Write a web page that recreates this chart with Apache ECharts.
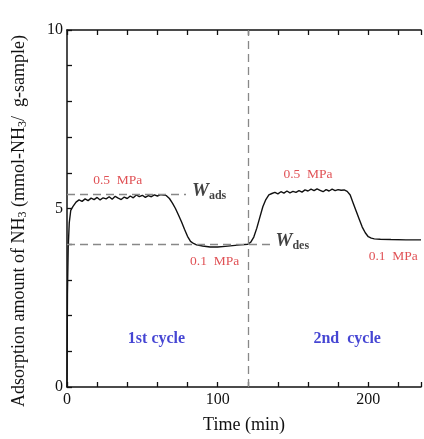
<!DOCTYPE html>
<html>
<head>
<meta charset="utf-8">
<script src="https://cdn.jsdelivr.net/npm/echarts@6/dist/echarts.min.js"></script>
<style>
html,body{margin:0;padding:0;background:#fff;}
#main{width:424px;height:439px;}
</style>
</head>
<body>
<div id="main"></div>
<script>
// time (min) and adsorbed amount
var times = [0,0.3,0.8,1.5,2.5,4,6,8,10,12,14,16,18,20,22,24,26,28,30,32,34,36,38,40,42,44,46,48,50,52,54,56,58,60,62,64,66,
	68,70,72,74,76,78,80,82,84,86,90,95,100,105,110,115,120,122,124,126,128,130,132,134,136,
	138,140,142,144,146,148,150,152,154,156,158,160,162,164,166,168,170,172,174,176,178,180,182,184,186,
	188,190,192,194,196,198,200,202,204,208,215,225,235];
var amount = [0,2.6,3.9,4.6,4.95,5.06,5.18,5.24,5.20,5.27,5.22,5.29,5.25,5.31,5.24,5.30,5.27,5.33,5.26,5.34,5.29,5.25,5.32,5.28,5.35,5.30,5.38,5.33,5.37,5.31,5.36,5.33,5.38,5.35,5.39,5.38,5.36,
	5.28,5.15,5.00,4.82,4.63,4.42,4.22,4.08,4.02,3.98,3.95,3.92,3.92,3.94,3.96,3.98,4.00,4.06,4.20,4.45,4.75,5.05,5.25,5.38,5.42,
	5.45,5.41,5.47,5.43,5.49,5.44,5.48,5.45,5.50,5.46,5.52,5.49,5.54,5.50,5.55,5.51,5.47,5.53,5.49,5.54,5.50,5.53,5.51,5.52,5.48,
	5.38,5.15,4.92,4.70,4.48,4.32,4.21,4.17,4.15,4.14,4.13,4.12,4.12];

var cycleEnd = 120;
var wAds = 5.4, wAdsEnd = 79;
var wDes = 4.0, wDesEnd = 135;

// text notes: [time, amount, text, kind]
var notes = [
	[33.7, 5.79, '0.5  MPa', 'p'],
	[160, 5.95, '0.5  MPa', 'p'],
	[98, 3.53, '0.1  MPa', 'p'],
	[216.6, 3.66, '0.1  MPa', 'p'],
	[59.4, 1.35, '1st cycle', 'c'],
	[186, 1.35, '2nd  cycle', 'c']
];
var wNotes = [
	[83, 5.5, 'ads'],
	[138.4, 4.08, 'des']
];

var serif = '"Liberation Serif", "DejaVu Serif", serif';

var curve = [];
for (var i = 0; i < times.length; i++) curve.push([times[i], amount[i]]);

var noteData = notes.map(function(n){
	return {
		value: [n[0], n[1]],
		label: {
			show: true, position: 'inside',
			formatter: n[2],
			fontFamily: serif,
			fontSize: n[3] === 'p' ? 13.5 : 16,
			fontWeight: n[3] === 'p' ? 'normal' : 'bold',
			color: n[3] === 'p' ? '#d8262a' : '#1616c8'
		}
	};
});
var wData = wNotes.map(function(n){
	return {
		value: [n[0], n[1]],
		label: {
			show: true, position: 'right', distance: 0,
			formatter: '{w|W}{s|' + n[2] + '}',
			rich: {
				w: {fontFamily: serif, fontStyle: 'italic', fontWeight: 'bold', fontSize: 19, color: '#111'},
				s: {fontFamily: serif, fontWeight: 'bold', fontSize: 12, color: '#111', padding: [10, 0, 0, 0]}
			}
		}
	};
});

var dashStyle = {color: '#888', width: 1.3, type: [8, 5]};

var option = {
	animation: false,
	grid: {left: 67, top: 30, bottom: 46, right: 0},
	graphic: [{
		type: 'text', x: 19, y: 221, rotation: Math.PI / 2,
		style: {
			text: 'Adsorption amount of NH{s|3} (mmol-NH{s|3}/  g-sample)',
			fontFamily: serif, fontSize: 18, fill: '#111',
			align: 'center', verticalAlign: 'middle',
			rich: {s: {fontFamily: serif, fontSize: 12, fill: '#111', padding: [8, 0, 0, 0]}}
		}
	}],
	xAxis: [{
		type: 'value', min: 0, max: 235, interval: 20,
		name: 'Time (min)', nameLocation: 'middle', nameGap: 29,
		nameTextStyle: {fontFamily: serif, fontSize: 18, color: '#111'},
		axisLine: {lineStyle: {color: '#111', width: 1.5}},
		axisTick: {inside: true, length: 5, lineStyle: {color: '#111', width: 1.3}},
		axisLabel: {
			margin: 5, fontFamily: serif, fontSize: 16, color: '#111',
			formatter: function(v){ return v % 100 === 0 ? String(v) : ''; }
		},
		splitLine: {show: false}
	}, {
		type: 'value', min: 0, max: 235, interval: 20, position: 'top',
		axisLine: {lineStyle: {color: '#111', width: 1.5}},
		axisTick: {inside: true, length: 5, lineStyle: {color: '#111', width: 1.3}},
		axisLabel: {show: false},
		splitLine: {show: false}
	}],
	yAxis: {
		type: 'value', min: 0, max: 10, interval: 1,
		axisLine: {lineStyle: {color: '#111', width: 1.5}},
		axisTick: {inside: true, length: 5, lineStyle: {color: '#111', width: 1.3}},
		axisLabel: {
			margin: 4, fontFamily: serif, fontSize: 16, color: '#111',
			formatter: function(v){ return v % 5 === 0 ? String(v) : ''; }
		},
		splitLine: {show: false}
	},
	series: [{
		type: 'line', data: curve, showSymbol: false, symbol: 'none',
		lineStyle: {color: '#111', width: 1.4},
		markLine: {
			silent: true, symbol: 'none', label: {show: false},
			lineStyle: dashStyle,
			data: [
				[{coord: [0, wAds]}, {coord: [wAdsEnd, wAds]}],
				[{coord: [0, wDes]}, {coord: [wDesEnd, wDes]}],
				[{coord: [cycleEnd, 0]}, {coord: [cycleEnd, 10]}]
			]
		}
	}, {
		type: 'scatter', data: noteData, symbolSize: 0, silent: true
	}, {
		type: 'scatter', data: wData, symbolSize: 0, silent: true
	}]
};

var myChart = echarts.init(document.getElementById('main'));
myChart.setOption(option);
</script>
</body>
</html>
